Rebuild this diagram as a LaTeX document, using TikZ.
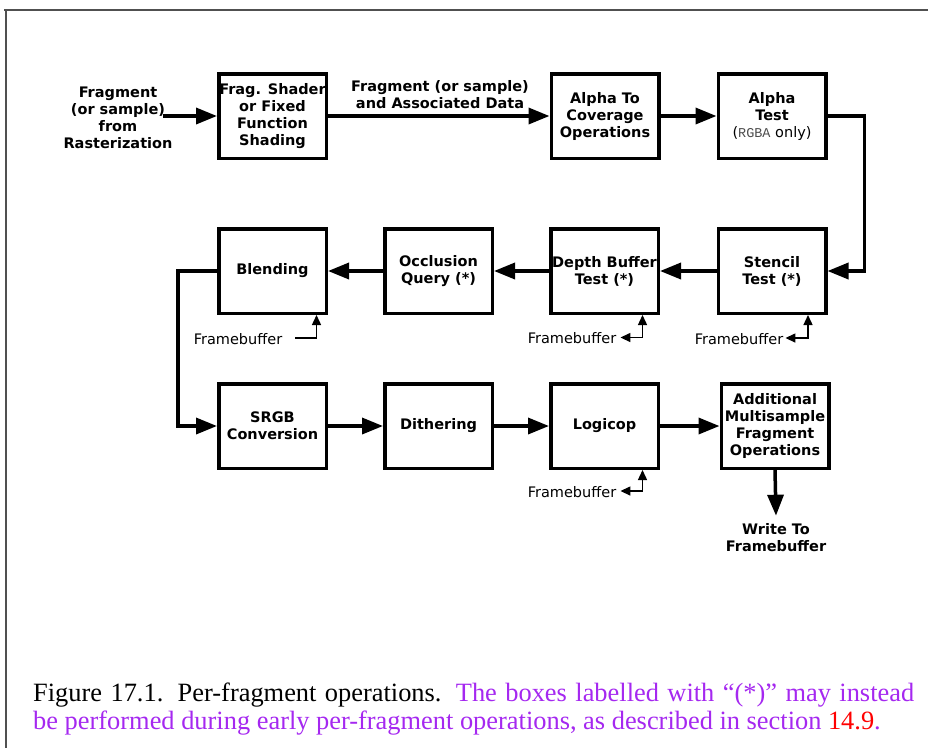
\documentclass[tikz,border=0pt]{standalone}
\usepackage{fontspec}
\setmainfont{Liberation Serif}
\newfontfamily\dejavu{DejaVu Sans}
\newfontfamily\monof{Liberation Mono}
\usetikzlibrary{arrows.meta}
\definecolor{capurple}{RGB}{165,40,240}
\definecolor{framegray}{RGB}{80,80,80}
\begin{document}
\begin{tikzpicture}[x=1pt,y=-1pt,
  box/.style={draw,line width=3.5pt,minimum width=107.5pt,minimum height=84.5pt,inner sep=0pt,align=center,font=\dejavu\bfseries\fontsize{14.5}{17}\selectfont},
  lbl/.style={inner sep=0pt,align=center,font=\dejavu\bfseries\fontsize{14.5}{17}\selectfont},
  fb/.style={inner sep=0pt,font=\dejavu\fontsize{14.5}{17}\selectfont},
  flow/.style={line width=3.5pt,-{Triangle[length=21pt,width=16pt]}},
  fbline/.style={line width=1.4pt},
  fbtip/.tip={Triangle[length=10pt,width=9pt]}
]
\useasboundingbox (0,0) rectangle (928,748);
% frame
\draw[framegray,line width=2pt] (4,10) -- (928,10);
\draw[framegray,line width=1.2pt] (6,10) -- (6,748);

% row 1
\node[lbl] (in) at (118,118) {Fragment\\(or sample)\\from\\Rasterization};
\coordinate (inend) at (163,116);
\node[box] (fs) at (272.5,116) {Frag. Shader\\or Fixed\\Function\\Shading};
\node[box] (ac) at (605,116) {Alpha To\\Coverage\\Operations};
\node[box] (at) at (772,116) {Alpha\\Test\\{\mdseries(\hbox{\monof\fontsize{13.5}{17}\selectfont\color{black!70}RGBA}\ only)}};
\node[lbl] (assoc) at (440,95) {Fragment (or sample)\\and Associated Data};

% row 2
\node[box] (bl) at (272.5,271) {Blending};
\node[box] (oq) at (438.5,271) {Occlusion\\Query (*)};
\node[box] (dp) at (604.5,271) {Depth Buffer\\Test (*)};
\node[box] (st) at (772,271) {Stencil\\Test (*)};

% row 3
\node[box] (sr) at (272.5,426) {SRGB\\Conversion};
\node[box] (di) at (438.5,426) {Dithering};
\node[box] (lo) at (604.5,426) {Logicop};
\node[box] (ad) at (775,426) {Additional\\Multisample\\Fragment\\Operations};
\node[lbl] (wr) at (776,538) {Write To\\Framebuffer};

% framebuffer labels
\node[fb] (fb1) at (238,339) {Framebuffer};
\node[fb] (fb2) at (572,338.5) {Framebuffer};
\node[fb] (fb3) at (739,339) {Framebuffer};
\node[fb] (fb4) at (572,492) {Framebuffer};

% flow connectors
\draw[flow] (inend) -- (fs.west);
\draw[flow] (fs.east) -- (ac.west);
\draw[flow] (ac.east) -- (at.west);
\draw[flow] (at.east) -- ++(37,0) |- (st.east);
\draw[flow] (st.west) -- (dp.east);
\draw[flow] (dp.west) -- (oq.east);
\draw[flow] (oq.west) -- (bl.east);
\draw[flow] (bl.west) -- ++(-39,0) |- (sr.west);
\draw[flow] (sr.east) -- (di.west);
\draw[flow] (di.east) -- (lo.west);
\draw[flow] (lo.east) -- (ad.west);
\draw[flow] (ad.south) -- ([yshift=8pt]wr.north);

% framebuffer connectors
\draw[fbline,-{fbtip}] ([xshift=13pt,yshift=1pt]fb1.east) -| ([xshift=44pt]bl.south);
\draw[fbline,{fbtip}-{fbtip}] ([xshift=4pt,yshift=1pt]fb2.east) -| ([xshift=38pt]dp.south);
\draw[fbline,{fbtip}-{fbtip}] ([xshift=2pt,yshift=1pt]fb3.east) -| ([xshift=36pt]st.south);
\draw[fbline,{fbtip}-{fbtip}] ([xshift=4pt,yshift=1pt]fb4.east) -| ([xshift=38pt]lo.south);

% caption
\node[anchor=base west,text width=881pt,inner sep=0pt,align=justify,font=\fontsize{26.4}{28}\selectfont] (cap) at (33,701.5)
 {Figure 17.1. Per-fragment operations. \textcolor{capurple}{The boxes labelled with “(*)” may instead\linebreak be performed during early per-fragment operations, as described in section} \textcolor{red}{14.9}\textcolor{capurple}{.}};
\end{tikzpicture}
\end{document}
